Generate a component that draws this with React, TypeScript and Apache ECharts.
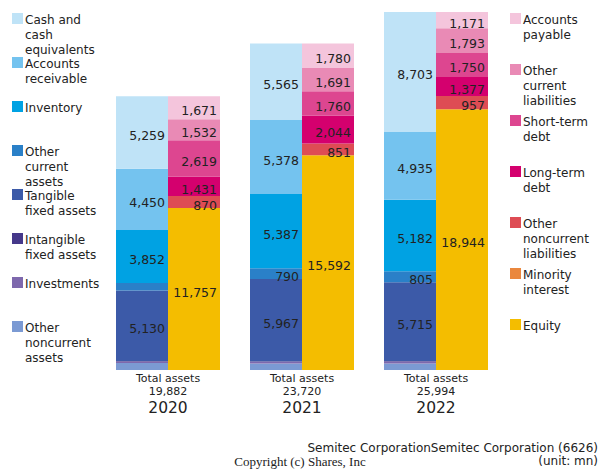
import React, { useEffect, useRef } from "react";
import * as echarts from "echarts";

const years = ["2020", "2021", "2022"];
const totalAssets = [19882, 23720, 25994];

// Assets (bottom to top)
const otherNoncurrentAssets = [500, 473, 474];
const investments = [120, 130, 140];
const intangibleFixedAssets = [30, 30, 40];
const tangibleFixedAssets = [5130, 5967, 5715];
const otherCurrentAssets = [540, 790, 805];
const inventory = [3852, 5387, 5182];
const accountsReceivable = [4450, 5378, 4935];
const cashAndEquivalents = [5259, 5565, 8703];

// Liabilities & equity (bottom to top)
const equity = [11757, 15592, 18944];
const minorityInterest = [2, 2, 2];
const otherNoncurrentLiabilities = [870, 851, 957];
const longTermDebt = [1431, 2044, 1377];
const shortTermDebt = [2619, 1760, 1750];
const otherCurrentLiabilities = [1532, 1691, 1793];
const accountsPayable = [1671, 1780, 1171];

const FONT = "DejaVu Sans";

const assetSeries = [
  { name: "Other noncurrent assets", data: otherNoncurrentAssets, color: "#7B9AD3" },
  { name: "Investments", data: investments, color: "#7E68AD" },
  { name: "Intangible fixed assets", data: intangibleFixedAssets, color: "#45388A" },
  { name: "Tangible fixed assets", data: tangibleFixedAssets, color: "#3C5AA8" },
  { name: "Other current assets", data: otherCurrentAssets, color: "#2A80C8" },
  { name: "Inventory", data: inventory, color: "#00A2E3" },
  { name: "Accounts receivable", data: accountsReceivable, color: "#74C3EF" },
  { name: "Cash and cash equivalents", data: cashAndEquivalents, color: "#BFE3F7" },
];

const liabSeries = [
  { name: "Equity", data: equity, color: "#F4BD00" },
  { name: "Minority interest", data: minorityInterest, color: "#EA873D" },
  { name: "Other noncurrent liabilities", data: otherNoncurrentLiabilities, color: "#DE4C54" },
  { name: "Long-term debt", data: longTermDebt, color: "#D4006E" },
  { name: "Short-term debt", data: shortTermDebt, color: "#DD4690" },
  { name: "Other current liabilities", data: otherCurrentLiabilities, color: "#E98AB5" },
  { name: "Accounts payable", data: accountsPayable, color: "#F4C5DC" },
];

const leftLegend = [
  { text: "Cash and\ncash\nequivalents", color: "#BFE3F7", y: 13 },
  { text: "Accounts\nreceivable", color: "#74C3EF", y: 57 },
  { text: "Inventory", color: "#00A2E3", y: 101 },
  { text: "Other\ncurrent\nassets", color: "#2A80C8", y: 145 },
  { text: "Tangible\nfixed assets", color: "#3C5AA8", y: 189 },
  { text: "Intangible\nfixed assets", color: "#45388A", y: 233 },
  { text: "Investments", color: "#7E68AD", y: 277 },
  { text: "Other\nnoncurrent\nassets", color: "#7B9AD3", y: 321 },
];

const rightLegend = [
  { text: "Accounts\npayable", color: "#F4C5DC", y: 13 },
  { text: "Other\ncurrent\nliabilities", color: "#E98AB5", y: 64 },
  { text: "Short-term\ndebt", color: "#DD4690", y: 115 },
  { text: "Long-term\ndebt", color: "#D4006E", y: 166 },
  { text: "Other\nnoncurrent\nliabilities", color: "#DE4C54", y: 217 },
  { text: "Minority\ninterest", color: "#EA873D", y: 268 },
  { text: "Equity", color: "#F4BD00", y: 319 },
];

const fmt = (v: number) => v.toLocaleString("en-US");

function legendGraphics(items: { text: string; color: string; y: number }[], x: number) {
  const out: any[] = [];
  items.forEach((it) => {
    out.push({
      type: "rect",
      shape: { x, y: it.y, width: 11, height: 11 },
      style: { fill: it.color },
    });
    out.push({
      type: "text",
      x: x + 13,
      y: it.y - 1,
      style: {
        text: it.text,
        fill: "#222",
        font: `12px "${FONT}"`,
        lineHeight: 15,
        verticalAlign: "top",
        align: "left",
      },
    });
  });
  return out;
}

export default function App() {
  const ref = useRef<HTMLDivElement>(null);
  useEffect(() => {
    if (!ref.current) return;
    const chart = echarts.init(ref.current, null, { renderer: "svg" });
    const mk = (s: { name: string; data: number[]; color: string }, stack: string) => ({
      type: "bar",
      name: s.name,
      stack,
      data: s.data,
      barWidth: 52,
      barGap: "0%",
      itemStyle: { color: s.color },
      label: {
        show: true,
        position: "insideRight",
        distance: 3,
        offset: [0, 3],
        color: "#222",
        fontFamily: FONT,
        fontSize: 12.5,
        formatter: (p: any) => (p.value >= 700 ? fmt(p.value) : ""),
      },
    });
    chart.setOption({
      animation: false,
      textStyle: { fontFamily: FONT },
      grid: { left: 101, right: 97, top: 12, bottom: 100 },
      xAxis: {
        type: "category",
        data: years,
        axisLine: { show: false },
        axisTick: { show: false },
        axisLabel: {
          margin: 2,
          interval: 0,
          formatter: (v: string, i: number) =>
            `{a|Total assets}\n{a|${fmt(totalAssets[i])}}\n{b|${v}}`,
          rich: {
            a: { fontSize: 11, lineHeight: 13, color: "#222", fontFamily: FONT },
            b: { fontSize: 15.5, lineHeight: 19, color: "#222", fontFamily: FONT },
          },
        },
      },
      yAxis: {
        type: "value",
        min: 0,
        max: 26000,
        show: false,
        splitLine: { show: false },
      },
      series: [
        ...assetSeries.map((s) => mk(s, "assets")),
        ...liabSeries.map((s) => mk(s, "liab")),
      ],
      graphic: [
        ...legendGraphics(leftLegend, 12),
        ...legendGraphics(rightLegend, 510),
        {
          type: "text",
          x: 598,
          y: 448,
          style: {
            text: "Semitec CorporationSemitec Corporation (6626)",
            fill: "#222",
            font: `12px "${FONT}"`,
            align: "right",
            verticalAlign: "middle",
          },
        },
        {
          type: "text",
          x: 598,
          y: 461,
          style: {
            text: "(unit: mn)",
            fill: "#222",
            font: `12px "${FONT}"`,
            align: "right",
            verticalAlign: "middle",
          },
        },
        {
          type: "text",
          x: 300,
          y: 461,
          style: {
            text: "Copyright (c) Shares, Inc",
            fill: "#222",
            font: `13px "Liberation Serif"`,
            align: "center",
            verticalAlign: "middle",
          },
        },
      ],
    });
    return () => chart.dispose();
  }, []);
  return (
    <div
      ref={ref}
      style={{ position: "fixed", left: 0, top: 0, width: 600, height: 470, background: "#fff" }}
    />
  );
}
